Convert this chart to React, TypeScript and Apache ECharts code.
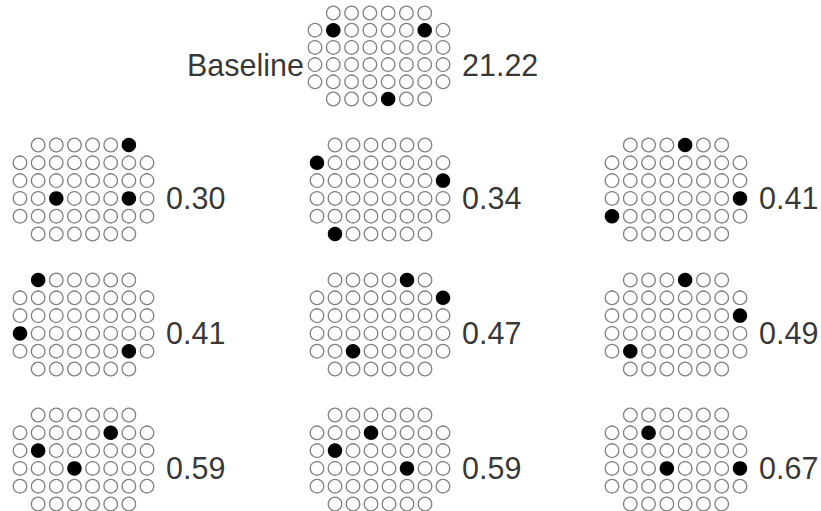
import React, { useEffect, useRef } from "react";
import * as echarts from "echarts";

// Layout of each sensor grid: row index -> [first column, last column]
const rowExtents: [number, number][] = [
  [1, 6],
  [0, 7],
  [0, 7],
  [0, 7],
  [0, 7],
  [1, 6],
];

// Panel names / scores
const panelNames = ["Baseline", "", "", "", "", "", "", "", "", ""];
const panelScores = [21.22, 0.3, 0.34, 0.41, 0.41, 0.47, 0.49, 0.59, 0.59, 0.67];

// Filled (selected) positions per panel, as [row, col]
const selectedBaseline: [number, number][] = [[1, 1], [1, 6], [5, 4]];
const selected030: [number, number][] = [[0, 6], [3, 2], [3, 6]];
const selected034: [number, number][] = [[1, 0], [2, 7], [5, 1]];
const selected041a: [number, number][] = [[0, 4], [3, 7], [4, 0]];
const selected041b: [number, number][] = [[0, 1], [3, 0], [4, 6]];
const selected047: [number, number][] = [[0, 5], [1, 7], [4, 2]];
const selected049: [number, number][] = [[0, 4], [2, 7], [4, 1]];
const selected059a: [number, number][] = [[1, 5], [2, 1], [3, 3]];
const selected059b: [number, number][] = [[1, 3], [2, 1], [3, 5]];
const selected067: [number, number][] = [[1, 2], [3, 3], [3, 7]];

const panelSelected = [
  selectedBaseline,
  selected030,
  selected034,
  selected041a,
  selected041b,
  selected047,
  selected049,
  selected059a,
  selected059b,
  selected067,
];

// Pixel placement of each panel's grid (centre of col 0 / row 0 to col 7 / row 5)
const panelBoxes = [
  { x0: 315, x1: 443, y0: 13, y1: 99 },
  { x0: 20, x1: 147, y0: 145, y1: 234 },
  { x0: 317, x1: 443, y0: 145, y1: 234 },
  { x0: 612, x1: 740, y0: 145, y1: 234 },
  { x0: 20, x1: 147, y0: 280, y1: 369 },
  { x0: 317, x1: 443, y0: 280, y1: 369 },
  { x0: 612, x1: 740, y0: 280, y1: 369 },
  { x0: 20, x1: 147, y0: 415, y1: 504 },
  { x0: 317, x1: 443, y0: 415, y1: 504 },
  { x0: 612, x1: 740, y0: 415, y1: 504 },
];

const FONT = "'Liberation Sans', Arial, Helvetica, sans-serif";

export default function App() {
  const ref = useRef<HTMLDivElement>(null);

  useEffect(() => {
    if (!ref.current) return;
    const chart = echarts.init(ref.current, undefined, { renderer: "svg" });

    const grids: any[] = [];
    const xAxes: any[] = [];
    const yAxes: any[] = [];
    const series: any[] = [];

    panelScores.forEach((score, i) => {
      const b = panelBoxes[i];
      grids.push({
        left: b.x0,
        top: b.y0,
        width: b.x1 - b.x0,
        height: b.y1 - b.y0,
        containLabel: false,
      });
      xAxes.push({ gridIndex: i, type: "value", min: 0, max: 7, show: false });
      yAxes.push({ gridIndex: i, type: "value", min: 0, max: 5, inverse: true, show: false });

      const sel = panelSelected[i];
      const isSel = (r: number, c: number) => sel.some(([sr, sc]) => sr === r && sc === c);
      const empty: number[][] = [];
      const filled: number[][] = [];
      rowExtents.forEach(([c0, c1], r) => {
        for (let c = c0; c <= c1; c++) {
          if (isSel(r, c)) filled.push([c, r]);
          else empty.push([c, r]);
        }
      });

      series.push({
        type: "scatter",
        xAxisIndex: i,
        yAxisIndex: i,
        data: empty,
        symbol: "circle",
        symbolSize: 13.5,
        silent: true,
        itemStyle: { color: "#ffffff", borderColor: "#808080", borderWidth: 1.3, opacity: 1 },
      });
      series.push({
        type: "scatter",
        xAxisIndex: i,
        yAxisIndex: i,
        data: filled,
        symbol: "circle",
        symbolSize: 14.5,
        silent: true,
        itemStyle: { color: "#000000", opacity: 1 },
      });
      // score label, right of the grid at row 3
      series.push({
        type: "scatter",
        xAxisIndex: i,
        yAxisIndex: i,
        data: [[7, 3]],
        symbolSize: 0,
        silent: true,
        label: {
          show: true,
          position: "right",
          distance: 19,
          formatter: () => score.toFixed(2),
          color: "#000000",
          fontSize: 30.5,
          fontFamily: FONT,
        },
      });
      if (panelNames[i]) {
        const name = panelNames[i];
        series.push({
          type: "scatter",
          xAxisIndex: i,
          yAxisIndex: i,
          data: [[0, 3]],
          symbolSize: 0,
          silent: true,
          label: {
            show: true,
            position: "left",
            distance: 11,
            formatter: () => name,
            color: "#000000",
            fontSize: 30.5,
            fontFamily: FONT,
          },
        });
      }
    });

    chart.setOption({
      animation: false,
      backgroundColor: "#ffffff",
      grid: grids,
      xAxis: xAxes,
      yAxis: yAxes,
      series,
    });

    return () => chart.dispose();
  }, []);

  return (
    <div
      ref={ref}
      style={{ position: "fixed", left: 0, top: 0, width: 821, height: 511, background: "#fff" }}
    />
  );
}
